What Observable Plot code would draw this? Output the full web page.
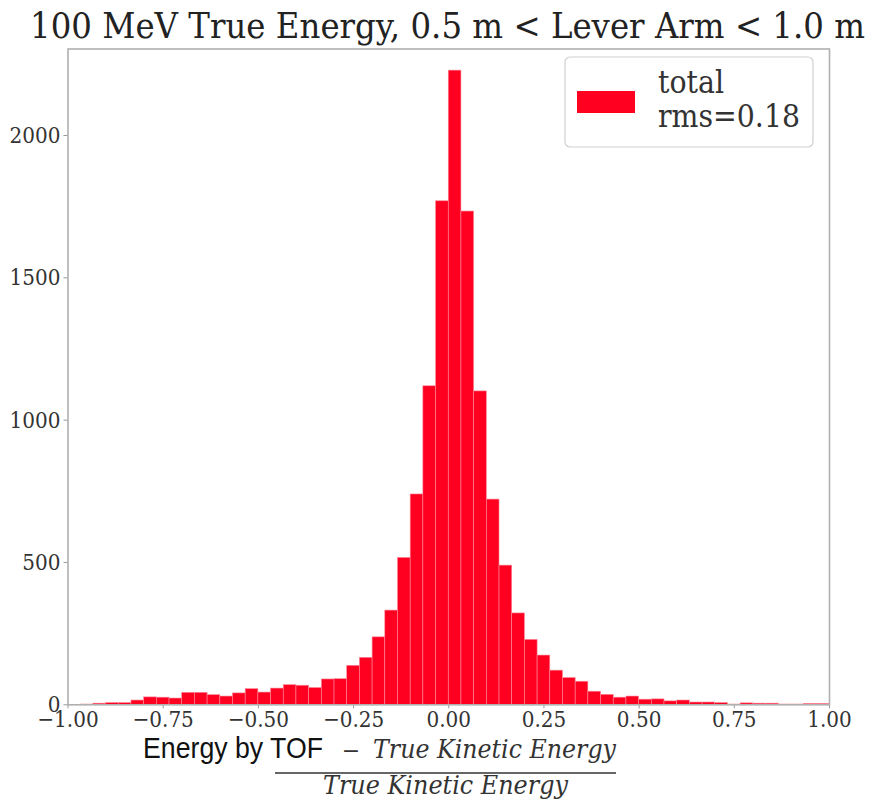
<!DOCTYPE html>
<html><head><meta charset="utf-8">
<script src="https://cdn.jsdelivr.net/npm/d3@7"></script>
<script src="https://cdn.jsdelivr.net/npm/@observablehq/plot@0.6"></script>
<style>
body{margin:0;background:#fff}
#wrap{position:relative;width:871px;height:803px;overflow:hidden;background:#fff}
#wrap svg{position:absolute;left:0;top:0}
</style>
</head><body><div id="wrap"></div>
<script>
// ---- data ----
const binStart = -1;
const binWidth = 1 / 30;
const counts = [
  0, 1, 4, 6, 6, 15, 26, 25, 22, 42,
  42, 34, 29, 40, 55, 43, 57, 69, 67, 59,
  89, 90, 137, 165, 237, 331, 516, 739, 1119, 1769,
  2228, 1733, 1101, 721, 489, 321, 228, 173, 120, 94,
  81, 46, 35, 25, 29, 18, 19, 12, 15, 8,
  8, 6, 1, 5, 4, 4, 1, 1, 3, 3
];
const xTicks = [-1, -0.75, -0.5, -0.25, 0, 0.25, 0.5, 0.75, 1];
const yTicks = [0, 500, 1000, 1500, 2000];
const titleText = "100 MeV True Energy, 0.5 m < Lever Arm < 1.0 m";
const legendLines = ["total", "rms=0.18"];
const xLabelSans = "Energy by TOF";
const xLabelMinus = "\u2212";
const xLabelMath = "True Kinetic Energy";
const barColor = "#ff0021";

const bins = counts.map((c, i) => ({
  x1: binStart + i * binWidth,
  x2: binStart + (i + 1) * binWidth,
  count: c
}));

const wrap = document.getElementById("wrap");

const chart = Plot.plot({
  width: 871,
  height: 803,
  marginLeft: 67.5,
  marginRight: 42,
  marginTop: 48.5,
  marginBottom: 98.7,
  style: {fontFamily: "'DejaVu Serif', serif", fontSize: "23px", color: "#333", background: "#fff"},
  x: {domain: [-1, 1], ticks: xTicks, tickFormat: d3.format(".2f"), tickSize: 4, tickPadding: 2, label: null},
  y: {domain: [0, 2304], ticks: yTicks, tickFormat: d3.format("d"), tickSize: 4, tickPadding: 3.5, label: null},
  marks: [
    Plot.rect(bins, {x1: "x1", x2: "x2", y1: 0, y2: "count", fill: barColor, stroke: "#ff8797", strokeWidth: 0.6}),
    Plot.frame({stroke: "#b0b0b0", strokeWidth: 1.6})
  ]
});
wrap.appendChild(chart);

// condense axis labels horizontally to match reference proportions
chart.querySelectorAll("text").forEach(t => {
  const len = t.getComputedTextLength();
  if (len > 0) {
    t.setAttribute("textLength", (len * 0.87).toFixed(2));
    t.setAttribute("lengthAdjust", "spacingAndGlyphs");
  }
});
chart.querySelectorAll("line, path").forEach(el => {
  if (el.closest("g[aria-label*='axis']")) el.setAttribute("stroke", "#999");
});

// ---- overlay: title, legend, x label ----
const NS = "http://www.w3.org/2000/svg";
const ov = document.createElementNS(NS, "svg");
ov.setAttribute("width", 871);
ov.setAttribute("height", 803);
wrap.appendChild(ov);
function mk(tag, attrs, text) {
  const e = document.createElementNS(NS, tag);
  for (const k in attrs) e.setAttribute(k, attrs[k]);
  if (text != null) e.textContent = text;
  ov.appendChild(e);
  return e;
}
mk("text", {x: 30, y: 38, "font-family": "DejaVu Serif", "font-size": 36, fill: "#222",
  textLength: 835, lengthAdjust: "spacingAndGlyphs"}, titleText);

// legend
mk("rect", {x: 565, y: 57, width: 248, height: 90, rx: 5, fill: "#fff", "fill-opacity": 0.85, stroke: "#d0d0d0", "stroke-width": 1.2});
mk("rect", {x: 577, y: 91, width: 58, height: 22, fill: barColor});
mk("text", {x: 658, y: 93, "font-family": "DejaVu Serif", "font-size": 31, fill: "#333",
  textLength: 66, lengthAdjust: "spacingAndGlyphs"}, legendLines[0]);
mk("text", {x: 658, y: 127, "font-family": "DejaVu Serif", "font-size": 31, fill: "#333",
  textLength: 142, lengthAdjust: "spacingAndGlyphs"}, legendLines[1]);

// x label (fraction)
mk("text", {x: 143, y: 757.5, "font-family": "'Liberation Sans', Arial, sans-serif", "font-size": 29, fill: "#111",
  textLength: 180, lengthAdjust: "spacingAndGlyphs"}, xLabelSans);
mk("text", {x: 351, y: 757.5, "text-anchor": "middle", "font-family": "DejaVu Serif", "font-size": 22, fill: "#333"}, xLabelMinus);
mk("text", {x: 373, y: 757.5, "font-family": "DejaVu Serif", "font-style": "italic", "font-size": 26, fill: "#333",
  textLength: 243, lengthAdjust: "spacingAndGlyphs"}, xLabelMath);
mk("line", {x1: 275, x2: 616, y1: 773, y2: 773, stroke: "#333", "stroke-width": 1.6});
mk("text", {x: 323, y: 794, "font-family": "DejaVu Serif", "font-style": "italic", "font-size": 26, fill: "#333",
  textLength: 245, lengthAdjust: "spacingAndGlyphs"}, xLabelMath);
</script>
</body></html>
